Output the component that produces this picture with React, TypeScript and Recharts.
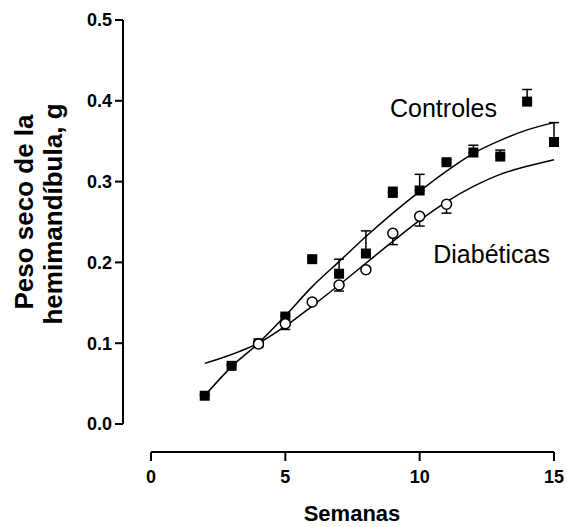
import React from 'react';
import { ComposedChart, Line, Scatter, XAxis, YAxis, ErrorBar, Label } from 'recharts';

const FONT = '"Liberation Sans", Arial, sans-serif';

const ctrlWeeks = [2, 3, 4, 5, 6, 7, 8, 9, 10, 11, 12, 13, 14, 15];
const ctrlMean = [0.035, 0.072, 0.1, 0.133, 0.204, 0.186, 0.211, 0.286, 0.289, 0.324, 0.336, 0.331, 0.399, 0.349];
const ctrlErrUp = [0.002, 0.002, 0.002, 0.002, 0.004, 0.018, 0.028, 0.007, 0.02, 0.003, 0.009, 0.008, 0.015, 0.024];

const diabWeeks = [4, 5, 6, 7, 8, 9, 10, 11];
const diabMean = [0.099, 0.124, 0.151, 0.172, 0.191, 0.236, 0.257, 0.272];
const diabErrDown = [0.002, 0.007, 0.002, 0.0075, 0.002, 0.014, 0.012, 0.011];

const fitWeeks = [2, 3, 4, 5, 6, 7, 8, 9, 10, 11, 12, 13, 14, 15];
const ctrlFit = [0.035, 0.071, 0.1, 0.134, 0.17, 0.201, 0.232, 0.261, 0.288, 0.313, 0.335, 0.351, 0.364, 0.373];
const diabFit = [0.075, 0.086, 0.1, 0.121, 0.146, 0.172, 0.199, 0.226, 0.252, 0.275, 0.294, 0.309, 0.319, 0.327];

const xTicks = [0, 5, 10, 15];
const yTicks = [0, 0.1, 0.2, 0.3, 0.4, 0.5];

const ctrlData = ctrlWeeks.map((x, i) => ({ x, y: ctrlMean[i], err: [0, ctrlErrUp[i]] }));
const diabData = diabWeeks.map((x, i) => ({ x, y: diabMean[i], err: [diabErrDown[i], 0] }));
const ctrlFitData = fitWeeks.map((x, i) => ({ x, y: ctrlFit[i] }));
const diabFitData = fitWeeks.map((x, i) => ({ x, y: diabFit[i] }));

const Square = (props: any) => {
  const { cx, cy } = props;
  return <rect x={cx - 5} y={cy - 5} width={10} height={10} fill="#000" />;
};

const Circle = (props: any) => {
  const { cx, cy } = props;
  return <circle cx={cx} cy={cy} r={5} fill="#fff" stroke="#000" strokeWidth={1.5} />;
};

const Y_SHIFT = 28;
const X_SHIFT = 28;

const YTick = (props: any) => {
  const { x, y, payload } = props;
  const ax = x - Y_SHIFT;
  return (
    <g>
      <line x1={ax - 8} y1={y} x2={ax} y2={y} stroke="#000" strokeWidth={2} />
      <text x={ax - 11} y={y} dy="0.355em" textAnchor="end" fontFamily={FONT} fontWeight="bold" fontSize={18} fill="#000">
        {Number(payload.value).toFixed(1)}
      </text>
    </g>
  );
};

const XTick = (props: any) => {
  const { x, y, payload } = props;
  const ay = y + X_SHIFT;
  return (
    <g>
      <line x1={x} y1={ay} x2={x} y2={ay + 9} stroke="#000" strokeWidth={2} />
      <text x={x} y={ay + 18} dy="0.71em" textAnchor="middle" fontFamily={FONT} fontWeight="bold" fontSize={18} fill="#000">
        {payload.value}
      </text>
    </g>
  );
};

const YTitle = () => (
  <g>
    <text
      transform="translate(33,212) rotate(-90)"
      textAnchor="middle"
      fontFamily={FONT}
      fontWeight="bold"
      fontSize={26}
      fill="#000"
    >
      Peso seco de la
    </text>
    <text
      transform="translate(62,214) rotate(-90)"
      textAnchor="middle"
      fontFamily={FONT}
      fontWeight="bold"
      fontSize={26}
      fill="#000"
    >
      hemimandíbula, g
    </text>
  </g>
);

const XTitle = () => (
  <g>
    <text x={352} y={521} textAnchor="middle" fontFamily={FONT} fontWeight="bold" fontSize={22} fill="#000">
      Semanas
    </text>
    <text x={497} y={117} textAnchor="end" fontFamily={FONT} fontSize={25} fill="#000">
      Controles
    </text>
    <text x={550} y={263} textAnchor="end" fontFamily={FONT} fontSize={25} fill="#000">
      Diabéticas
    </text>
  </g>
);

const css = `
.recharts-yAxis .recharts-cartesian-axis-line { transform: translate(-28px, 0px); }
.recharts-xAxis .recharts-cartesian-axis-line { transform: translate(0px, 28px); }
`;

export default function App() {
  return (
    <div style={{ position: 'absolute', left: 0, top: 0, width: 567, height: 527, background: '#fff' }}>
      <style>{css}</style>
      <ComposedChart width={567} height={527} margin={{ top: 20, right: 13, bottom: 0, left: 0 }}>
        <XAxis
          dataKey="x"
          type="number"
          domain={[0, 15]}
          ticks={xTicks}
          height={103}
          tickSize={0}
          tickMargin={0}
          axisLine={{ stroke: '#000', strokeWidth: 2 }}
          tickLine={false}
          tick={XTick}
        >
          <Label content={XTitle} />
        </XAxis>
        <YAxis
          type="number"
          domain={[0, 0.5]}
          ticks={yTicks}
          width={151}
          tickSize={0}
          tickMargin={0}
          axisLine={{ stroke: '#000', strokeWidth: 2 }}
          tickLine={false}
          tick={YTick}
        >
          <Label content={YTitle} />
        </YAxis>
        <Line data={ctrlFitData} dataKey="y" type="monotone" stroke="#000" strokeWidth={1.5} dot={false} isAnimationActive={false} />
        <Line data={diabFitData} dataKey="y" type="monotone" stroke="#000" strokeWidth={1.5} dot={false} isAnimationActive={false} />
        <Scatter data={ctrlData} dataKey="y" shape={Square} isAnimationActive={false}>
          <ErrorBar dataKey="err" direction="y" width={5} stroke="#000" strokeWidth={1.5} isAnimationActive={false} />
        </Scatter>
        <Scatter data={diabData} dataKey="y" shape={Circle} isAnimationActive={false}>
          <ErrorBar dataKey="err" direction="y" width={5} stroke="#000" strokeWidth={1.5} isAnimationActive={false} />
        </Scatter>
      </ComposedChart>
    </div>
  );
}
